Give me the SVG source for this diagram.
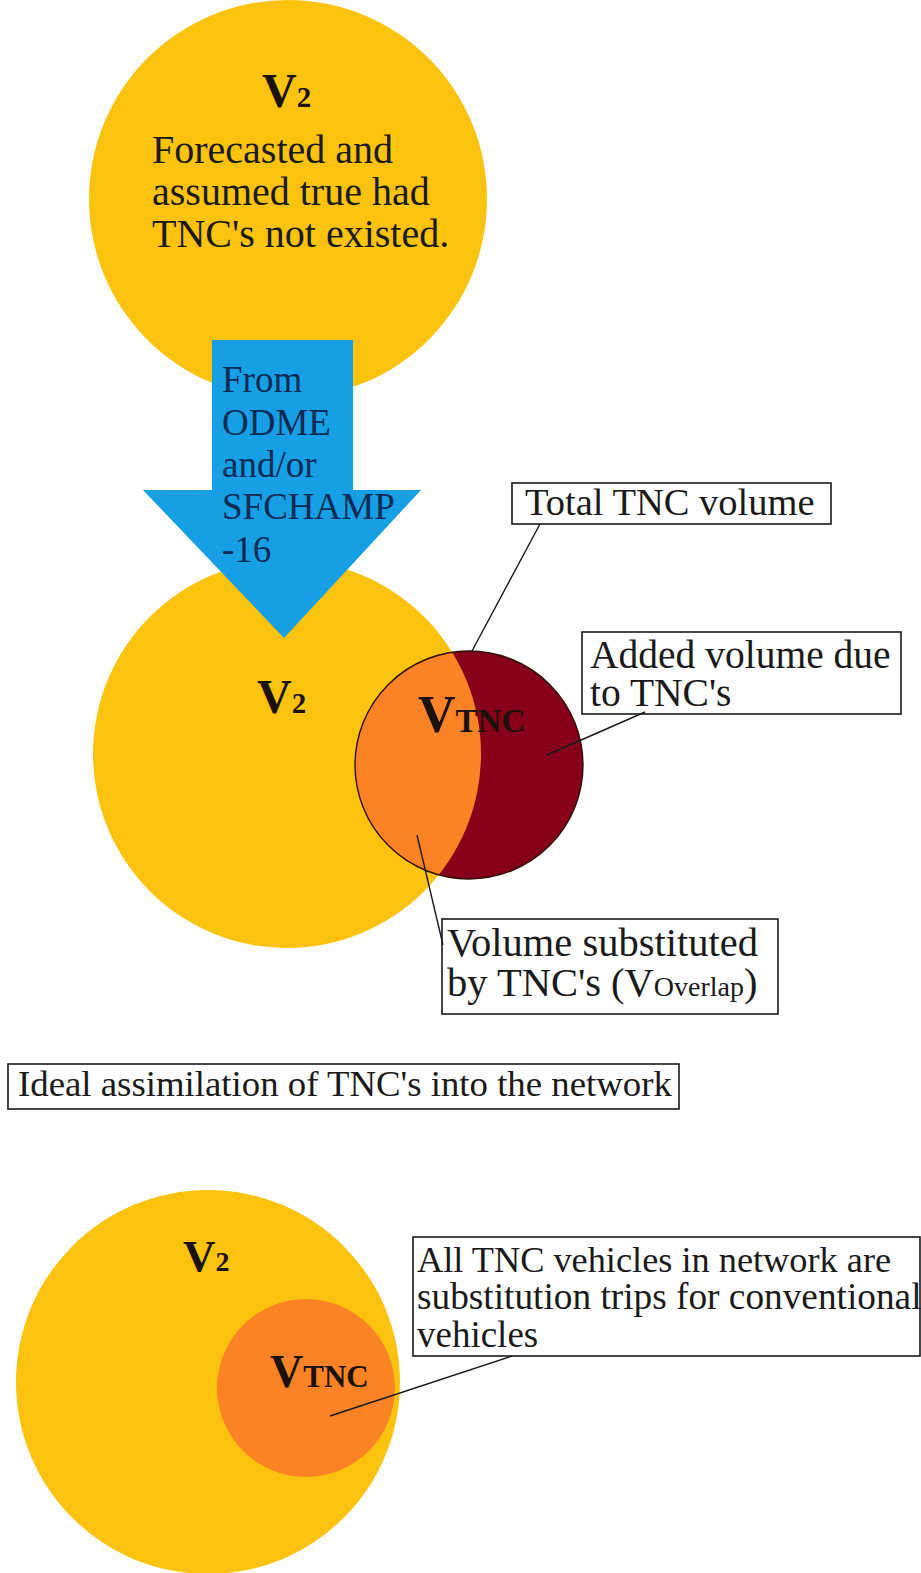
<svg xmlns="http://www.w3.org/2000/svg" width="921" height="1573" viewBox="0 0 921 1573">
<style>
.yel{fill:#FCC30E}
.lbl{font-family:"Liberation Serif","Times New Roman",serif;fill:#1a1a1a}
.box{fill:#ffffff;stroke:#1a1a1a;stroke-width:1.6}
.vb{font-family:"Liberation Serif","Times New Roman",serif;font-weight:bold;fill:#1a1208}
.arr{font-family:"Liberation Serif","Times New Roman",serif;font-size:37px;fill:#0B2B55}
.ptr{stroke:#1a1a1a;stroke-width:1.4;fill:none}
</style>
<defs>
<clipPath id="v2clip"><circle cx="287" cy="754" r="194"/></clipPath>
</defs>
<rect width="921" height="1573" fill="#ffffff"/>

<g id="v2-top">
<circle class="yel" cx="288" cy="199" r="199"/>
<text class="vb" x="262" y="107" font-size="48">V<tspan font-size="29">2</tspan></text>
<text class="lbl" x="152" y="163" font-size="40">Forecasted and</text>
<text class="lbl" x="152" y="205" font-size="40">assumed true had</text>
<text class="lbl" x="152" y="247" font-size="40">TNC's not existed.</text>
</g>

<g id="v2-mid">
<circle class="yel" cx="287" cy="754" r="194"/>
<text class="vb" x="257" y="713" font-size="48">V<tspan font-size="29">2</tspan></text>
</g>

<g id="arrow">
<polygon points="212,340 353,340 353,490 421,490 284,638 143,490 212,490" fill="#169FE4"/>
<text class="arr" x="222" y="392">From</text>
<text class="arr" x="222" y="435">ODME</text>
<text class="arr" x="222" y="477">and/or</text>
<text class="arr" x="222" y="519">SFCHAMP</text>
<text class="arr" x="222" y="562">-16</text>
</g>

<g id="vtnc-mid">
<circle cx="469" cy="765" r="114" fill="#86001A"/>
<circle cx="469" cy="765" r="114" fill="#FB8225" clip-path="url(#v2clip)"/>
<circle cx="469" cy="765" r="114" fill="none" stroke="#2a1208" stroke-width="1.4"/>
<text class="vb" x="418" y="732" font-size="52">V<tspan font-size="33">TNC</tspan></text>
</g>

<g id="label-total">
<rect class="box" x="512" y="483" width="319" height="41"/>
<text class="lbl" x="525" y="515" font-size="38.5">Total TNC volume</text>
</g>

<g id="label-added">
<rect class="box" x="582" y="632" width="319" height="82"/>
<text class="lbl" x="590" y="668" font-size="39.5">Added volume due</text>
<text class="lbl" x="590" y="706" font-size="39.5">to TNC's</text>
</g>

<g id="label-substituted">
<rect class="box" x="442" y="919" width="336" height="95"/>
<text class="lbl" x="447" y="956" font-size="40.5">Volume substituted</text>
<text class="lbl" x="447" y="996" font-size="40.5">by TNC's (V<tspan font-size="28">Overlap</tspan>)</text>
</g>

<g id="label-ideal">
<rect class="box" x="8" y="1064" width="671" height="45"/>
<text class="lbl" x="18" y="1096" font-size="36.8">Ideal assimilation of TNC's into the network</text>
</g>

<g id="v2-bottom">
<circle class="yel" cx="208" cy="1382" r="192"/>
<text class="vb" x="183" y="1271" font-size="45">V<tspan font-size="28">2</tspan></text>
</g>

<g id="vtnc-bottom">
<circle cx="306" cy="1388" r="89" fill="#FB8225"/>
<text class="vb" x="270" y="1387" font-size="46">V<tspan font-size="31">TNC</tspan></text>
</g>

<g id="label-all">
<rect class="box" x="413" y="1237" width="507" height="119"/>
<text class="lbl" x="417" y="1272" font-size="36.3">All TNC vehicles in network are</text>
<text class="lbl" x="417" y="1309" font-size="37.3">substitution trips for conventional</text>
<text class="lbl" x="417" y="1347" font-size="37">vehicles</text>
</g>

<g id="connectors">
<line class="ptr" x1="540" y1="524" x2="472" y2="651"/>
<line class="ptr" x1="645" y1="712" x2="547" y2="755"/>
<line class="ptr" x1="417" y1="835" x2="443" y2="945"/>
<line class="ptr" x1="512" y1="1356" x2="330" y2="1416"/>
</g>
</svg>
